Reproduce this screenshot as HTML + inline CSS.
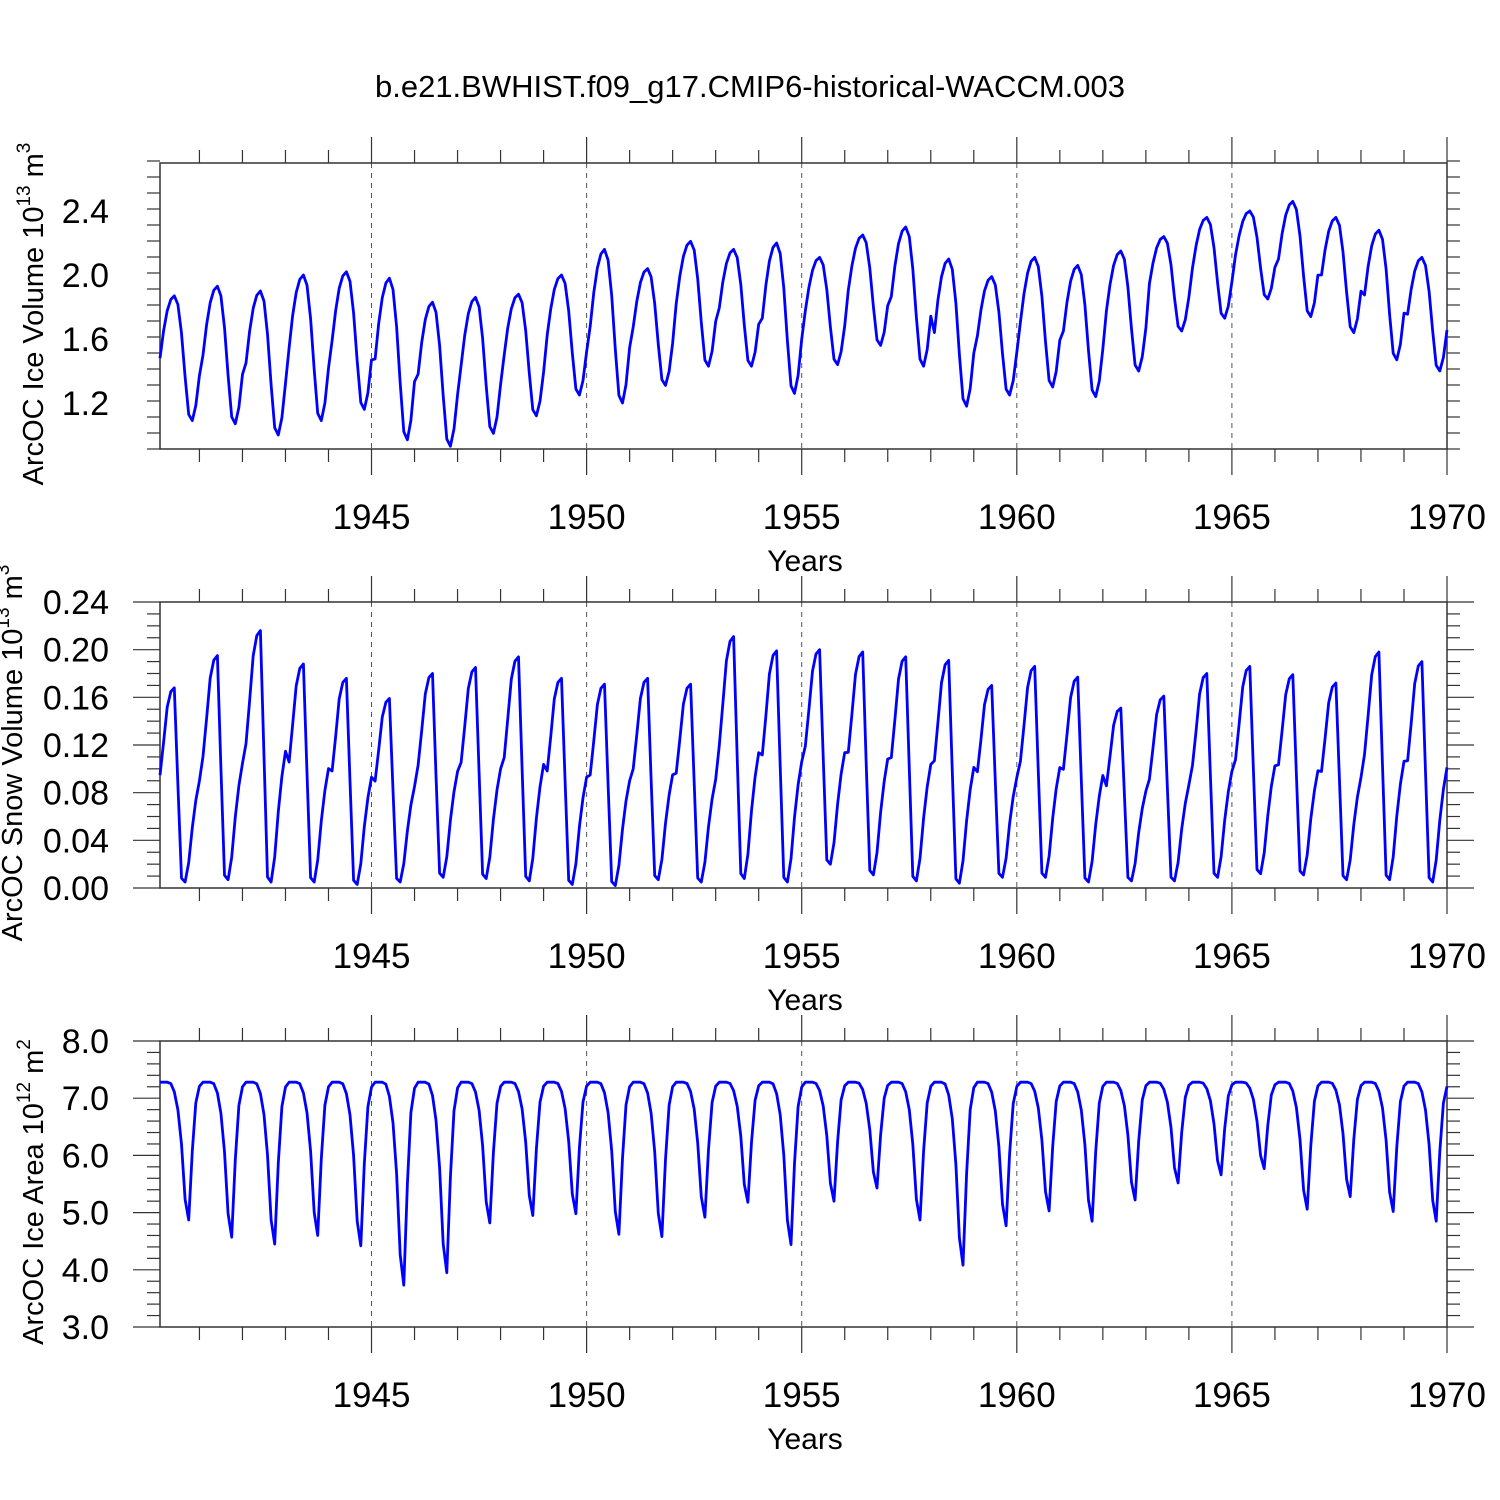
<!DOCTYPE html>
<html><head><meta charset="utf-8"><style>
html,body{margin:0;padding:0;background:#fff;}
svg{display:block;font-family:"Liberation Sans",sans-serif;}
</style></head><body>
<svg id="chart" width="1500" height="1500" viewBox="0 0 1500 1500" xmlns="http://www.w3.org/2000/svg">
<rect x="0" y="0" width="1500" height="1500" fill="#fff"/>
<text x="750" y="97" font-size="31" text-anchor="middle">b.e21.BWHIST.f09_g17.CMIP6-historical-WACCM.003</text>
</svg>
<script>
// ---------- data ----------
const years = [1940,1941,1942,1943,1944,1945,1946,1947,1948,1949,1950,1951,1952,1953,1954,1955,1956,1957,1958,1959,1960,1961,1962,1963,1964,1965,1966,1967,1968,1969];
const iceVolMax = [1.87,1.93,1.90,2.00,2.02,1.98,1.83,1.86,1.88,2.00,2.16,2.04,2.21,2.16,2.20,2.11,2.25,2.30,2.10,1.99,2.11,2.06,2.15,2.24,2.36,2.40,2.46,2.36,2.28,2.11];
const iceVolMin = [1.09,1.07,1.00,1.09,1.16,0.97,0.93,1.01,1.12,1.25,1.20,1.31,1.43,1.43,1.26,1.44,1.56,1.43,1.18,1.25,1.30,1.24,1.40,1.65,1.73,1.85,1.74,1.64,1.47,1.40];
const iceVolShape = [0.50,0.72,0.88,0.97,1.00,0.93,0.70,0.35,0.05,0.00,0.12,0.36];
const snowMax = [0.168,0.195,0.216,0.188,0.176,0.159,0.180,0.185,0.194,0.176,0.171,0.176,0.171,0.211,0.199,0.200,0.198,0.194,0.191,0.170,0.186,0.177,0.151,0.161,0.180,0.186,0.179,0.172,0.198,0.190];
const snowMin = [0.005,0.007,0.005,0.005,0.003,0.005,0.009,0.008,0.006,0.003,0.002,0.007,0.005,0.008,0.005,0.020,0.011,0.006,0.004,0.009,0.009,0.005,0.006,0.006,0.009,0.012,0.011,0.007,0.007,0.005];
const snowShape = [0.55,0.72,0.90,0.98,1.00,0.50,0.02,0.00,0.10,0.28,0.42,0.52];
const areaMax = [7.28,7.28,7.28,7.28,7.28,7.28,7.28,7.28,7.28,7.28,7.28,7.28,7.28,7.28,7.28,7.28,7.28,7.28,7.28,7.28,7.28,7.28,7.28,7.28,7.28,7.28,7.28,7.28,7.28,7.28];
const areaMin = [4.87,4.57,4.45,4.60,4.42,3.73,3.95,4.82,4.95,4.98,4.62,4.58,4.92,5.18,4.44,5.20,5.43,4.87,4.08,4.77,5.03,4.85,5.22,5.52,5.66,5.77,5.06,5.28,5.02,4.85];
const areaShape = [1.00,1.00,1.00,0.99,0.93,0.80,0.55,0.15,0.00,0.50,0.85,0.97];
const xTickLabels = ["1945","1950","1955","1960","1965","1970"];
const iceVolTicks = ["1.2","1.6","2.0","2.4"];
const snowTicks = ["0.00","0.04","0.08","0.12","0.16","0.20","0.24"];
const areaTicks = ["3.0","4.0","5.0","6.0","7.0","8.0"];

// ---------- drawing ----------
const NS = "http://www.w3.org/2000/svg";
const svg = document.getElementById('chart');
const X0 = 160, X1 = 1447, T0 = 1940 + 1/12, T1 = 1970;
const xs = t => X0 + (t - T0) / (T1 - T0) * (X1 - X0);
function mk(tag, attrs, parent) {
  const e = document.createElementNS(NS, tag);
  for (const k in attrs) e.setAttribute(k, attrs[k]);
  (parent || svg).appendChild(e);
  return e;
}
function series(mx, mn, shape) {
  const out = [];
  years.forEach((y, i) => {
    for (let m = 0; m < 12; m++) out.push([y + (m + 1) / 12, mn[i] + shape[m] * (mx[i] - mn[i])]);
  });
  return out;
}
function panel(cfg) {
  const g = mk('g', {});
  
  
  const top = cfg.top, bot = cfg.top + 286;
  const ys = v => bot - (v - cfg.ymin) / (cfg.ymax - cfg.ymin) * (bot - top);
  for (let yr = 1945; yr <= 1965; yr += 5) {
    const l = mk('line', {x1: xs(yr), x2: xs(yr), y1: top, y2: bot, stroke: '#555', 'stroke-width': 1, 'stroke-dasharray': '5,5'}, g);
    
    
  }
  const fr = mk('rect', {x: X0, y: top, width: X1 - X0, height: bot - top, fill: 'none', stroke: '#333', 'stroke-width': 1.5}, g);
  
  
  for (let yr = 1941; yr <= 1970; yr++) {
    const major = yr % 5 === 0;
    const L = major ? 26 : 13;
    mk('line', {x1: xs(yr), x2: xs(yr), y1: top, y2: top - L, stroke: '#333', 'stroke-width': 1.2}, g);
    mk('line', {x1: xs(yr), x2: xs(yr), y1: bot, y2: bot + L, stroke: '#333', 'stroke-width': 1.2}, g);
  }
  xTickLabels.forEach(s => {
    const t = mk('text', {x: xs(+s), y: bot + 80, 'font-size': 35, 'text-anchor': 'middle'}, g);
    
    
    t.textContent = s;
  });
  const xt = mk('text', {x: 805, y: bot + 122, 'font-size': 30, 'text-anchor': 'middle'}, g);
  
  
  xt.textContent = 'Years';
  const nMinor = Math.round((cfg.ymax - cfg.ymin) / cfg.minor);
  for (let k = 0; k <= nMinor; k++) {
    const v = cfg.ymin + k * cfg.minor;
    const isMajor = cfg.ticks.some(s => Math.abs(+s - v) < cfg.minor / 10);
    const L = isMajor ? 27 : 13;
    mk('line', {x1: X0, x2: X0 - L, y1: ys(v), y2: ys(v), stroke: '#333', 'stroke-width': 1.2}, g);
    mk('line', {x1: X1, x2: X1 + L, y1: ys(v), y2: ys(v), stroke: '#333', 'stroke-width': 1.2}, g);
  }
  cfg.ticks.forEach(s => {
    const t = mk('text', {x: 109, y: ys(+s) + 12, 'font-size': 34, 'text-anchor': 'end'}, g);
    
    
    t.textContent = s;
  });
  const yt = mk('text', {x: 0, y: 0, 'font-size': 29, 'text-anchor': 'middle', transform: `translate(${cfg.ylx},${(top + bot) / 2 + 8}) rotate(-90)`}, g);
  
  
  yt.innerHTML = cfg.ylabel + ' 10<tspan font-size="19" dy="-13">' + cfg.exp + '</tspan><tspan dy="13"> m</tspan><tspan font-size="19" dy="-13">' + cfg.unitExp + '</tspan>';
  const pts = series(cfg.mx, cfg.mn, cfg.shape);
  const d = pts.map((p, i) => (i ? 'L' : 'M') + xs(p[0]).toFixed(1) + ',' + ys(p[1]).toFixed(1)).join('');
  const pl = mk('path', {d: d, fill: 'none', stroke: '#0000ff', 'stroke-width': 2.8, 'stroke-linejoin': 'round'}, g);
  
  
}
panel({name: 'ice-volume-panel', top: 163, ymin: 0.9125, ymax: 2.7, minor: 0.1, ticks: iceVolTicks, mx: iceVolMax, mn: iceVolMin, shape: iceVolShape, ylabel: 'ArcOC Ice Volume', exp: '13', unitExp: '3', ylx: 43});
panel({name: 'snow-volume-panel', top: 602, ymin: 0, ymax: 0.24, minor: 0.01, ticks: snowTicks, mx: snowMax, mn: snowMin, shape: snowShape, ylabel: 'ArcOC Snow Volume', exp: '13', unitExp: '3', ylx: 22});
panel({name: 'ice-area-panel', top: 1041, ymin: 3, ymax: 8, minor: 0.2, ticks: areaTicks, mx: areaMax, mn: areaMin, shape: areaShape, ylabel: 'ArcOC Ice Area', exp: '12', unitExp: '2', ylx: 43});
</script>
</body></html>
